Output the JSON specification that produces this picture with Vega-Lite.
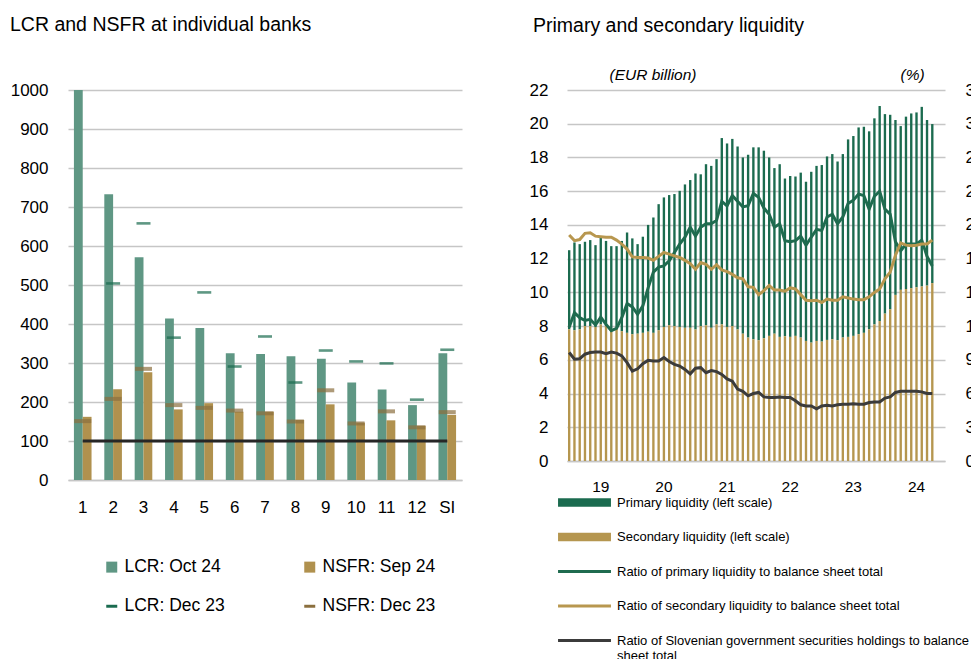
{
  "$schema": "https://vega.github.io/schema/vega-lite/v6.json",
  "background": "white",
  "padding": {"left": 10, "top": 14, "right": 0, "bottom": 0},
  "config": {
    "view": {"stroke": null},
    "font": "Liberation Sans",
    "axis": {"labelFont": "Liberation Sans", "labelColor": "#000000", "ticks": false, "tickSize": 0, "gridColor": "#c6c6c6", "gridWidth": 1.3, "domainColor": "#c6c6c6", "domainWidth": 1.3, "labelOverlap": false},
    "legend": {"labelFont": "Liberation Sans", "labelColor": "#000000", "padding": 0, "symbolOpacity": 1},
    "title": {"font": "Liberation Sans", "fontSize": 19.5, "fontWeight": "normal", "color": "#000000", "anchor": "start", "frame": "group"}
  },
  "resolve": {"scale": {"color": "independent"}, "legend": {"color": "independent"}},
  "spacing": 67,
  "datasets": {
    "banks": [
      {"bank": "1", "lcr_oct24": 1000, "nsfr_sep24": 162, "lcr_dec23": null, "nsfr_dec23": 151, "minimum": 100},
      {"bank": "2", "lcr_oct24": 733, "nsfr_sep24": 233, "lcr_dec23": 504, "nsfr_dec23": 208, "minimum": 100},
      {"bank": "3", "lcr_oct24": 571, "nsfr_sep24": 276, "lcr_dec23": 658, "nsfr_dec23": 285, "minimum": 100},
      {"bank": "4", "lcr_oct24": 414, "nsfr_sep24": 181, "lcr_dec23": 365, "nsfr_dec23": 192, "minimum": 100},
      {"bank": "5", "lcr_oct24": 390, "nsfr_sep24": 197, "lcr_dec23": 481, "nsfr_dec23": 185, "minimum": 100},
      {"bank": "6", "lcr_oct24": 325, "nsfr_sep24": 175, "lcr_dec23": 291, "nsfr_dec23": 178, "minimum": 100},
      {"bank": "7", "lcr_oct24": 323, "nsfr_sep24": 175, "lcr_dec23": 368, "nsfr_dec23": 171, "minimum": 100},
      {"bank": "8", "lcr_oct24": 317, "nsfr_sep24": 154, "lcr_dec23": 250, "nsfr_dec23": 150, "minimum": 100},
      {"bank": "9", "lcr_oct24": 311, "nsfr_sep24": 194, "lcr_dec23": 332, "nsfr_dec23": 230, "minimum": 100},
      {"bank": "10", "lcr_oct24": 250, "nsfr_sep24": 147, "lcr_dec23": 304, "nsfr_dec23": 145, "minimum": 100},
      {"bank": "11", "lcr_oct24": 232, "nsfr_sep24": 153, "lcr_dec23": 299, "nsfr_dec23": 176, "minimum": 100},
      {"bank": "12", "lcr_oct24": 192, "nsfr_sep24": 139, "lcr_dec23": 206, "nsfr_dec23": 135, "minimum": 100},
      {"bank": "SI", "lcr_oct24": 325, "nsfr_sep24": 167, "lcr_dec23": 334, "nsfr_dec23": 174, "minimum": 100}
    ],
    "liq": [
      {"month": "2019-01", "primary": 4.69, "secondary": 7.81, "r_primary": 11.9, "r_secondary": 20.1, "r_gov": 9.65},
      {"month": "2019-02", "primary": 5.21, "secondary": 7.75, "r_primary": 13.2, "r_secondary": 19.6, "r_gov": 9.05},
      {"month": "2019-03", "primary": 5.05, "secondary": 7.81, "r_primary": 12.75, "r_secondary": 19.7, "r_gov": 9.1},
      {"month": "2019-04", "primary": 5.0, "secondary": 8.0, "r_primary": 12.5, "r_secondary": 20.25, "r_gov": 9.5},
      {"month": "2019-05", "primary": 5.1, "secondary": 8.0, "r_primary": 12.6, "r_secondary": 20.3, "r_gov": 9.65},
      {"month": "2019-06", "primary": 4.85, "secondary": 7.95, "r_primary": 12.1, "r_secondary": 20.0, "r_gov": 9.7},
      {"month": "2019-07", "primary": 5.15, "secondary": 8.1, "r_primary": 12.8, "r_secondary": 19.95, "r_gov": 9.7},
      {"month": "2019-08", "primary": 5.05, "secondary": 8.0, "r_primary": 12.15, "r_secondary": 19.9, "r_gov": 9.55},
      {"month": "2019-09", "primary": 4.94, "secondary": 7.8, "r_primary": 11.6, "r_secondary": 19.9, "r_gov": 9.7},
      {"month": "2019-10", "primary": 4.89, "secondary": 7.85, "r_primary": 11.8, "r_secondary": 19.65, "r_gov": 9.6},
      {"month": "2019-11", "primary": 5.35, "secondary": 7.7, "r_primary": 12.75, "r_secondary": 19.3, "r_gov": 9.35},
      {"month": "2019-12", "primary": 5.95, "secondary": 7.6, "r_primary": 14.0, "r_secondary": 18.85, "r_gov": 8.75},
      {"month": "2020-01", "primary": 5.68, "secondary": 7.52, "r_primary": 13.7, "r_secondary": 18.15, "r_gov": 8.0},
      {"month": "2020-02", "primary": 5.31, "secondary": 7.55, "r_primary": 13.05, "r_secondary": 18.1, "r_gov": 8.2},
      {"month": "2020-03", "primary": 5.7, "secondary": 7.6, "r_primary": 13.8, "r_secondary": 18.1, "r_gov": 8.65},
      {"month": "2020-04", "primary": 6.33, "secondary": 7.67, "r_primary": 15.4, "r_secondary": 18.05, "r_gov": 8.95},
      {"month": "2020-05", "primary": 6.84, "secondary": 7.6, "r_primary": 16.8, "r_secondary": 17.85, "r_gov": 8.9},
      {"month": "2020-06", "primary": 7.48, "secondary": 7.75, "r_primary": 17.25, "r_secondary": 18.2, "r_gov": 8.9},
      {"month": "2020-07", "primary": 7.68, "secondary": 7.95, "r_primary": 17.35, "r_secondary": 18.55, "r_gov": 9.2},
      {"month": "2020-08", "primary": 7.72, "secondary": 8.05, "r_primary": 17.8, "r_secondary": 18.4, "r_gov": 8.85},
      {"month": "2020-09", "primary": 7.83, "secondary": 8.0, "r_primary": 18.55, "r_secondary": 18.25, "r_gov": 8.6},
      {"month": "2020-10", "primary": 8.07, "secondary": 7.95, "r_primary": 19.3, "r_secondary": 18.1, "r_gov": 8.45},
      {"month": "2020-11", "primary": 8.5, "secondary": 7.9, "r_primary": 19.9, "r_secondary": 17.85, "r_gov": 8.15},
      {"month": "2020-12", "primary": 8.76, "secondary": 7.9, "r_primary": 20.8, "r_secondary": 17.55, "r_gov": 7.75},
      {"month": "2021-01", "primary": 9.25, "secondary": 7.8, "r_primary": 20.0, "r_secondary": 17.05, "r_gov": 8.25},
      {"month": "2021-02", "primary": 9.0, "secondary": 8.0, "r_primary": 20.8, "r_secondary": 17.65, "r_gov": 8.3},
      {"month": "2021-03", "primary": 9.55, "secondary": 8.05, "r_primary": 21.1, "r_secondary": 17.5, "r_gov": 7.85},
      {"month": "2021-04", "primary": 9.6, "secondary": 7.9, "r_primary": 21.1, "r_secondary": 17.05, "r_gov": 8.05},
      {"month": "2021-05", "primary": 9.8, "secondary": 8.1, "r_primary": 21.4, "r_secondary": 17.45, "r_gov": 7.95},
      {"month": "2021-06", "primary": 11.05, "secondary": 8.1, "r_primary": 23.1, "r_secondary": 17.0, "r_gov": 7.7},
      {"month": "2021-07", "primary": 10.88, "secondary": 7.95, "r_primary": 22.7, "r_secondary": 16.85, "r_gov": 7.3},
      {"month": "2021-08", "primary": 11.1, "secondary": 8.0, "r_primary": 23.6, "r_secondary": 16.6, "r_gov": 7.1},
      {"month": "2021-09", "primary": 10.85, "secondary": 7.8, "r_primary": 23.1, "r_secondary": 16.3, "r_gov": 6.4},
      {"month": "2021-10", "primary": 10.45, "secondary": 7.55, "r_primary": 22.6, "r_secondary": 16.2, "r_gov": 6.2},
      {"month": "2021-11", "primary": 10.84, "secondary": 7.32, "r_primary": 22.7, "r_secondary": 15.5, "r_gov": 5.8},
      {"month": "2021-12", "primary": 11.38, "secondary": 7.22, "r_primary": 23.8, "r_secondary": 15.45, "r_gov": 6.0},
      {"month": "2022-01", "primary": 11.44, "secondary": 7.16, "r_primary": 23.45, "r_secondary": 14.8, "r_gov": 6.1},
      {"month": "2022-02", "primary": 11.12, "secondary": 7.28, "r_primary": 22.5, "r_secondary": 15.15, "r_gov": 5.7},
      {"month": "2022-03", "primary": 10.58, "secondary": 7.42, "r_primary": 21.95, "r_secondary": 15.6, "r_gov": 5.65},
      {"month": "2022-04", "primary": 9.82, "secondary": 7.55, "r_primary": 20.8, "r_secondary": 15.2, "r_gov": 5.65},
      {"month": "2022-05", "primary": 10.24, "secondary": 7.36, "r_primary": 21.1, "r_secondary": 15.2, "r_gov": 5.7},
      {"month": "2022-06", "primary": 9.35, "secondary": 7.4, "r_primary": 19.6, "r_secondary": 15.1, "r_gov": 5.65},
      {"month": "2022-07", "primary": 9.54, "secondary": 7.36, "r_primary": 19.5, "r_secondary": 15.4, "r_gov": 5.65},
      {"month": "2022-08", "primary": 9.45, "secondary": 7.42, "r_primary": 19.6, "r_secondary": 15.3, "r_gov": 5.35},
      {"month": "2022-09", "primary": 9.78, "secondary": 7.32, "r_primary": 20.0, "r_secondary": 14.8, "r_gov": 5.0},
      {"month": "2022-10", "primary": 9.44, "secondary": 7.12, "r_primary": 19.2, "r_secondary": 14.3, "r_gov": 4.9},
      {"month": "2022-11", "primary": 10.13, "secondary": 7.02, "r_primary": 19.9, "r_secondary": 14.25, "r_gov": 4.9},
      {"month": "2022-12", "primary": 10.38, "secondary": 7.12, "r_primary": 20.6, "r_secondary": 14.3, "r_gov": 4.65},
      {"month": "2023-01", "primary": 10.47, "secondary": 7.08, "r_primary": 20.5, "r_secondary": 14.1, "r_gov": 4.9},
      {"month": "2023-02", "primary": 10.88, "secondary": 7.18, "r_primary": 21.7, "r_secondary": 14.4, "r_gov": 4.95},
      {"month": "2023-03", "primary": 10.98, "secondary": 7.22, "r_primary": 21.95, "r_secondary": 14.3, "r_gov": 4.9},
      {"month": "2023-04", "primary": 10.6, "secondary": 7.16, "r_primary": 21.1, "r_secondary": 14.3, "r_gov": 5.0},
      {"month": "2023-05", "primary": 10.88, "secondary": 7.32, "r_primary": 21.7, "r_secondary": 14.6, "r_gov": 5.05},
      {"month": "2023-06", "primary": 11.71, "secondary": 7.36, "r_primary": 22.9, "r_secondary": 14.5, "r_gov": 5.05},
      {"month": "2023-07", "primary": 11.85, "secondary": 7.42, "r_primary": 23.2, "r_secondary": 14.4, "r_gov": 5.1},
      {"month": "2023-08", "primary": 12.26, "secondary": 7.52, "r_primary": 23.75, "r_secondary": 14.35, "r_gov": 5.05},
      {"month": "2023-09", "primary": 12.22, "secondary": 7.6, "r_primary": 23.6, "r_secondary": 14.35, "r_gov": 5.05},
      {"month": "2023-10", "primary": 11.74, "secondary": 7.81, "r_primary": 22.4, "r_secondary": 14.6, "r_gov": 5.2},
      {"month": "2023-11", "primary": 12.22, "secondary": 8.1, "r_primary": 23.55, "r_secondary": 15.0, "r_gov": 5.25},
      {"month": "2023-12", "primary": 12.75, "secondary": 8.3, "r_primary": 24.0, "r_secondary": 15.3, "r_gov": 5.25},
      {"month": "2024-01", "primary": 11.83, "secondary": 8.74, "r_primary": 22.4, "r_secondary": 16.2, "r_gov": 5.6},
      {"month": "2024-02", "primary": 11.53, "secondary": 9.0, "r_primary": 21.95, "r_secondary": 16.8, "r_gov": 5.7},
      {"month": "2024-03", "primary": 10.37, "secondary": 9.85, "r_primary": 19.5, "r_secondary": 18.3, "r_gov": 6.1},
      {"month": "2024-04", "primary": 9.71, "secondary": 10.15, "r_primary": 18.7, "r_secondary": 19.4, "r_gov": 6.2},
      {"month": "2024-05", "primary": 10.22, "secondary": 10.2, "r_primary": 19.3, "r_secondary": 19.2, "r_gov": 6.2},
      {"month": "2024-06", "primary": 10.36, "secondary": 10.25, "r_primary": 19.3, "r_secondary": 19.15, "r_gov": 6.2},
      {"month": "2024-07", "primary": 10.37, "secondary": 10.3, "r_primary": 19.3, "r_secondary": 19.2, "r_gov": 6.2},
      {"month": "2024-08", "primary": 10.65, "secondary": 10.35, "r_primary": 19.65, "r_secondary": 19.3, "r_gov": 6.15},
      {"month": "2024-09", "primary": 9.82, "secondary": 10.4, "r_primary": 18.2, "r_secondary": 19.3, "r_gov": 6.0},
      {"month": "2024-10", "primary": 9.43, "secondary": 10.55, "r_primary": 17.35, "r_secondary": 19.65, "r_gov": 6.0}
    ]
  },
  "hconcat": [
    {
      "width": 394,
      "height": 390,
      "title": {"text": "LCR and NSFR at individual banks", "dx": -58, "offset": 46},
      "data": {"name": "banks"},
      "encoding": {
        "x": {"field": "bank", "type": "nominal", "sort": null,
          "scale": {"type": "band", "paddingInner": 0.42, "paddingOuter": 0.195},
          "axis": {"title": null, "labelAngle": 0, "labelFontSize": 17, "labelPadding": 19, "domain": true, "grid": false}}
      },
      "layer": [
        {
          "transform": [{"fold": ["lcr_oct24", "nsfr_sep24"], "as": ["series", "value"]}],
          "mark": {"type": "bar"},
          "encoding": {
            "xOffset": {"field": "series", "type": "nominal", "sort": ["lcr_oct24", "nsfr_sep24"], "scale": {"paddingInner": 0, "paddingOuter": 0}},
            "y": {"field": "value", "type": "quantitative",
              "scale": {"domain": [0, 1000], "nice": false},
              "axis": {"title": null, "values": [0, 100, 200, 300, 400, 500, 600, 700, 800, 900, 1000], "format": "d", "labelFontSize": 17, "labelPadding": 20, "domain": false, "grid": true}},
            "color": {"field": "series", "type": "nominal",
              "scale": {"domain": ["lcr_oct24", "nsfr_sep24", "lcr_dec23", "nsfr_dec23"], "range": ["#5f9784", "#b0914e", "#1a6b4f", "#8b6f3e"]},
              "legend": {
                "orient": "none", "legendX": 35, "legendY": 468, "title": null, "columns": 2, "direction": "horizontal",
                "columnPadding": 76, "rowPadding": 20.5, "labelFontSize": 17.5, "labelOffset": 4, "symbolSize": 121, "symbolType": "square", "labelLimit": 300,
                "labelExpr": "datum.value == 'lcr_oct24' ? 'LCR: Oct 24' : datum.value == 'nsfr_sep24' ? 'NSFR: Sep 24' : datum.value == 'lcr_dec23' ? 'LCR: Dec 23' : 'NSFR: Dec 23'",
                "encode": {"symbols": {"update": {
                  "shape": {"signal": "indexof(datum.value, 'dec23') >= 0 ? 'M-1,-0.27H1V0.27H-1Z' : 'square'"},
                  "fill": {"signal": "datum.value == 'lcr_oct24' ? '#5f9784' : datum.value == 'nsfr_sep24' ? '#b0914e' : datum.value == 'lcr_dec23' ? '#1a6b4f' : '#8b6f3e'"},
                  "strokeWidth": {"value": 0},
                  "opacity": {"value": 1}
                }}}
              }}
          }
        },
        {
          "mark": {"type": "line", "color": "#262626", "strokeWidth": 2.8},
          "encoding": {"y": {"field": "minimum", "type": "quantitative",
            "axis": {"title": null, "values": [0, 100, 200, 300, 400, 500, 600, 700, 800, 900, 1000], "format": "d", "labelFontSize": 17, "labelPadding": 20, "domain": false, "grid": true}}}
        },
        {
          "mark": {"type": "tick", "thickness": 4, "size": 17},
          "encoding": {
            "y": {"field": "nsfr_dec23", "type": "quantitative",
              "axis": {"title": null, "values": [0, 100, 200, 300, 400, 500, 600, 700, 800, 900, 1000], "format": "d", "labelFontSize": 17, "labelPadding": 20, "domain": false, "grid": true}},
            "color": {"datum": "nsfr_dec23"}
          }
        },
        {
          "mark": {"type": "tick", "thickness": 2.6, "size": 14},
          "encoding": {
            "y": {"field": "lcr_dec23", "type": "quantitative",
              "axis": {"title": null, "values": [0, 100, 200, 300, 400, 500, 600, 700, 800, 900, 1000], "format": "d", "labelFontSize": 17, "labelPadding": 20, "domain": false, "grid": true}},
            "color": {"datum": "lcr_dec23"}
          }
        }
      ]
    },
    {
      "width": 378,
      "height": 371,
      "title": {"text": "Primary and secondary liquidity", "dx": -34, "offset": 31},
      "data": {"name": "liq"},
      "encoding": {
        "x": {"field": "month", "type": "ordinal",
          "scale": {"type": "band", "paddingInner": 0.55, "paddingOuter": 0.19,
            "domain": ["2019-01","2019-02","2019-03","2019-04","2019-05","2019-06","2019-07","2019-08","2019-09","2019-10","2019-11","2019-12","2020-01","2020-02","2020-03","2020-04","2020-05","2020-06","2020-07","2020-08","2020-09","2020-10","2020-11","2020-12","2021-01","2021-02","2021-03","2021-04","2021-05","2021-06","2021-07","2021-08","2021-09","2021-10","2021-11","2021-12","2022-01","2022-02","2022-03","2022-04","2022-05","2022-06","2022-07","2022-08","2022-09","2022-10","2022-11","2022-12","2023-01","2023-02","2023-03","2023-04","2023-05","2023-06","2023-07","2023-08","2023-09","2023-10","2023-11","2023-12","2024-01","2024-02","2024-03","2024-04","2024-05","2024-06","2024-07","2024-08","2024-09","2024-10","2024-11","2024-12"]},
          "axis": {"title": null, "labelAngle": 0, "labelFontSize": 15.5, "labelPadding": 18, "domain": true, "grid": false,
            "labelExpr": "substring(datum.value, 5, 7) == '07' ? substring(datum.value, 2, 4) : ''"}}
      },
      "layer": [
        {
          "transform": [{"fold": ["primary", "secondary"], "as": ["series", "amount"]}],
          "mark": {"type": "bar"},
          "encoding": {
            "y": {"field": "amount", "type": "quantitative", "stack": "zero",
              "scale": {"domain": [0, 22], "nice": false},
              "axis": {"title": "(EUR billion)", "titleAngle": 0, "titleAlign": "left", "titleBaseline": "middle", "titleX": 42, "titleY": -16,
                "titleFont": "Liberation Sans", "titleFontStyle": "italic", "titleFontWeight": "normal", "titleFontSize": 15.5, "titleColor": "#000000",
                "values": [0, 2, 4, 6, 8, 10, 12, 14, 16, 18, 20, 22], "labelFontSize": 17, "labelPadding": 19, "domain": false, "grid": true}},
            "order": {"field": "series", "sort": "descending"},
            "color": {"field": "series", "type": "nominal",
              "scale": {"domain": ["primary", "secondary", "r_primary", "r_secondary", "r_gov"], "range": ["#1b6b4f", "#b5964f", "#1f6b4f", "#b8974f", "#3b3b3b"]},
              "legend": {
                "orient": "none", "legendX": 11, "legendY": 406, "title": null, "direction": "vertical",
                "rowPadding": 20.5, "labelFontSize": 13, "labelOffset": 26, "symbolType": "square", "symbolSize": 112, "labelLimit": 600,
                "labelExpr": "datum.value == 'primary' ? 'Primary liquidity (left scale)' : datum.value == 'secondary' ? 'Secondary liquidity (left scale)' : datum.value == 'r_primary' ? 'Ratio of primary liquidity to balance sheet total' : datum.value == 'r_secondary' ? 'Ratio of secondary liquidity to balance sheet total' : ['Ratio of Slovenian government securities holdings to balance', 'sheet total']",
                "encode": {"symbols": {"update": {
                  "shape": {"signal": "(datum.value == 'primary' || datum.value == 'secondary') ? 'M-5,-0.8H5V0.8H-5Z' : 'M-5,-0.28H5V0.28H-5Z'"},
                  "fill": {"signal": "datum.value == 'primary' ? '#1b6b4f' : datum.value == 'secondary' ? '#b5964f' : datum.value == 'r_primary' ? '#1f6b4f' : datum.value == 'r_secondary' ? '#b8974f' : '#3b3b3b'"},
                  "strokeWidth": {"value": 0},
                  "opacity": {"value": 1}
                }}}
              }}
          }
        },
        {
          "transform": [{"fold": ["r_primary", "r_secondary", "r_gov"], "as": ["series", "pct"]}],
          "mark": {"type": "line", "strokeWidth": 3},
          "encoding": {
            "y": {"field": "pct", "type": "quantitative",
              "scale": {"domain": [0, 33], "nice": false},
              "axis": {"orient": "right", "title": "(%)", "titleAngle": 0, "titleAlign": "left", "titleBaseline": "middle", "titleX": -45, "titleY": -16,
                "titleFont": "Liberation Sans", "titleFontStyle": "italic", "titleFontWeight": "normal", "titleFontSize": 15.5, "titleColor": "#000000",
                "values": [0, 3, 6, 9, 12, 15, 18, 21, 24, 27, 30, 33], "labelFontSize": 17, "labelPadding": 20, "domain": false, "grid": false}},
            "color": {"field": "series", "type": "nominal"}
          }
        }
      ],
      "resolve": {"scale": {"y": "independent"}}
    }
  ]
}
